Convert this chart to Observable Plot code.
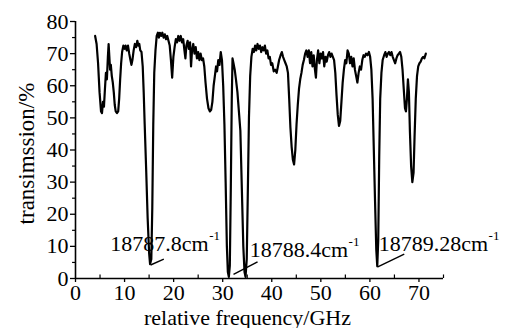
<!DOCTYPE html>
<html><head><meta charset="utf-8">
<script src="https://cdn.jsdelivr.net/npm/d3@7"></script>
<script src="https://cdn.jsdelivr.net/npm/@observablehq/plot@0.6"></script>
<style>
body{margin:0;background:#fff;font-family:"Liberation Serif",serif}
svg text{font-family:"Liberation Serif","Times New Roman",serif !important}
</style>
</head><body><div id="chart"></div>
<script>
// relative frequency (GHz)
const freq = [
4.0,4.3,4.6,4.9,5.2,5.4,5.6,5.8,6.0,6.2,
6.4,6.6,6.75,6.9,7.05,7.2,7.4,7.6,7.8,8.0,
8.2,8.45,8.7,8.9,9.1,9.3,9.5,9.75,10.0,10.2,
10.45,10.7,10.95,11.2,11.4,11.6,11.85,12.1,12.35,12.6,
12.8,13.0,13.2,13.45,13.7,13.9,14.1,14.4,14.7,15.0,
15.2,15.45,15.65,15.85,16.05,16.3,16.55,16.8,17.0,17.2,
17.45,17.7,17.95,18.2,18.45,18.7,18.95,19.2,19.45,19.7,
19.95,20.2,20.45,20.7,20.95,21.2,21.45,21.7,21.95,22.2,
22.4,22.6,22.85,23.1,23.35,23.55,23.75,24.0,24.25,24.5,
24.75,25.0,25.25,25.5,25.75,26.0,26.25,26.5,26.8,27.1,
27.4,27.65,27.9,28.15,28.4,28.65,28.85,29.1,29.35,29.6,
29.85,30.1,30.35,30.6,30.85,31.05,31.25,31.45,31.65,31.85,
32.0,32.2,32.45,32.7,33.0,33.3,33.6,33.9,34.2,34.45,
34.65,34.9,35.1,35.35,35.6,35.85,36.1,36.35,36.6,36.85,
37.1,37.35,37.6,37.85,38.1,38.35,38.6,38.85,39.1,39.35,
39.6,39.85,40.1,40.4,40.7,41.0,41.25,41.5,41.8,42.05,
42.3,42.55,42.8,43.05,43.3,43.55,43.8,44.05,44.3,44.55,
44.8,45.05,45.3,45.55,45.8,46.05,46.3,46.55,46.8,47.05,
47.3,47.55,47.8,48.05,48.3,48.55,48.8,49.0,49.2,49.45,
49.7,49.95,50.2,50.45,50.7,50.95,51.2,51.45,51.7,51.95,
52.2,52.45,52.7,52.95,53.2,53.45,53.7,53.95,54.2,54.45,
54.7,54.95,55.2,55.45,55.7,55.95,56.2,56.45,56.7,56.95,
57.2,57.45,57.7,57.95,58.2,58.45,58.7,58.95,59.2,59.5,
59.8,60.05,60.3,60.55,60.8,61.05,61.3,61.5,61.7,61.9,
62.1,62.35,62.6,62.9,63.15,63.4,63.65,63.9,64.15,64.4,
64.65,64.9,65.15,65.4,65.65,65.9,66.15,66.4,66.65,66.9,
67.15,67.35,67.55,67.75,67.95,68.15,68.4,68.65,68.9,69.1,
69.35,69.6,69.85,70.1,70.35,70.6,70.85,71.1,71.4
];
// transmission (%)
const trans = [
75.5,73,67,58,52,51.5,55,53.5,59,64,
62,69,73,69,65,66.5,63,61,58,54,
52,51.5,52,56,62,67,70.5,72.5,71.5,72.5,
71,72.5,70,68,66.5,68,71,73,72,74,
72.5,73,71,70.5,66,58,48,34,19,8,
4.5,6,22,48,64,71,75.5,76.5,75,76.5,
75.5,76.5,75,76,74.5,75.5,74,72.5,68,62.5,
69,72,74.5,73.5,75.5,74,75.5,73.5,74.5,71,
68.5,72.5,74,71.5,73.5,66,71,73,70,72,
68.5,70.5,68,70,68,68.5,66,61,56,53,
52,52.5,55,60,63,66,64.5,68,66.5,70.5,
68,60,48,30,10,2,0.5,4,28,56,
68.5,67,65,62,58,52,46,28,10,2,
0.5,6,25,50,63,69,71.5,70.5,72.5,71,
73,71.5,72.5,70.5,72,71,72.5,70,71,68.5,
69,66.5,67,64.5,65,64,66,68,69.5,70.5,
69,68,67,66,64,56,47,41,37,35.5,
40,48,54,59,62,64,66.5,68,70,71,
69,71,67,70.5,66,69.5,65,62.5,68,71,
67,70,68.5,70.5,66,69,67.5,69.5,70.5,69,
70,69,68,64,57,51,47.5,49,55,61,
65,68,67,71,70,67,69,66,68.5,65,
63,61,64,66,65,68,69.5,69,70,69.5,
70.5,69,65,56,40,24,9,3.8,12,38,
56,64,68,69.5,70.5,69,70,70.5,69.5,70.5,
69,68,67,68.5,69.5,70,70.5,69,65,59,
53,52,56,62,58,46,35,30,33,44,
56,63,66,67,67.5,68.5,69,68.5,70
];

const xTicks = [0, 10, 20, 30, 40, 50, 60, 70];
const xMinor = [5, 15, 25, 35, 45, 55, 65, 75];
const yTicks = [0, 10, 20, 30, 40, 50, 60, 70, 80];
const yMinor = [5, 15, 25, 35, 45, 55, 65, 75];

// line annotations (wavenumber + unit, superscript drawn separately)
const labelText = ["18787.8cm", "18788.4cm", "18789.28cm"];
const labelSup = "-1";
const labelX = [7.1, 35.5, 61.8];
const labelY = [10.8, 8.9, 10.9];
// leader lines: from dip to label
const leadX1 = [15.3, 32.2, 61.6];
const leadY1 = [4.2, 1.3, 3.6];
const leadX2 = [18.0, 37.1, 67.0];
const leadY2 = [6.0, 5.2, 7.6];

const xTitle = "relative frequency/GHz";
const yTitle = "transimssion/%";

const FONT = "Liberation Serif";
const data = freq.map((f, i) => ({f, t: trans[i]}));
const labels = labelText.map((s, i) => ({s, x: labelX[i], y: labelY[i]}));
const leaders = leadX1.map((x1, i) => ({x1, y1: leadY1[i], x2: leadX2[i], y2: leadY2[i]}));

// approximate serif advance widths (em) to place superscripts after each label
const adv = {"0":0.5,"1":0.5,"2":0.5,"3":0.5,"4":0.5,"5":0.5,"6":0.5,"7":0.5,"8":0.5,"9":0.5,".":0.25,"c":0.444,"m":0.778};
const textW = s => [...s].reduce((a, ch) => a + (adv[ch] || 0.5), 0) * 22;
const supMarks = labels.map(d => Plot.text([d], {
  x: "x", y: "y", text: () => labelSup, textAnchor: "start", lineAnchor: "middle",
  fontSize: 13, fontFamily: FONT, dx: textW(d.s) + 0.5, dy: -8
}));

const chart = Plot.plot({
  width: 511,
  height: 328,
  marginLeft: 75,
  marginRight: 68,
  marginTop: 21,
  marginBottom: 50,
  style: "font-family: 'Liberation Serif', serif; font-size: 22px;",
  x: {domain: [0, 75], label: null, axis: null},
  y: {domain: [0, 80], label: null, axis: null},
  marks: [
    Plot.axisX({ticks: xTicks, tickSize: 4, tickPadding: 2, label: null, fontSize: 22, fontFamily: FONT, strokeWidth: 1.3}),
    Plot.axisY({ticks: yTicks, tickSize: 5, tickPadding: 2, label: null, fontSize: 22, fontFamily: FONT, strokeWidth: 1.3}),
    Plot.ruleX(xMinor, {y1: 0, y2: 1.1, strokeWidth: 1.2}),
    Plot.ruleY(yMinor, {x1: 0, x2: -0.6, strokeWidth: 1.2}),
    Plot.ruleX([0], {strokeWidth: 1.6}),
    Plot.ruleY([0], {strokeWidth: 1.6}),
    Plot.line(data, {x: "f", y: "t", stroke: "black", strokeWidth: 2.2}),
    Plot.link(leaders, {x1: "x1", y1: "y1", x2: "x2", y2: "y2", stroke: "black", strokeWidth: 1.4}),
    Plot.text(labels, {x: "x", y: "y", text: "s", textAnchor: "start", lineAnchor: "middle", fontSize: 22, fontFamily: FONT}),
    ...supMarks,
    Plot.text([xTitle], {frameAnchor: "bottom", textAnchor: "middle", lineAnchor: "middle", dx: -12, dy: 39, fontSize: 22, fontFamily: FONT}),
    Plot.text([yTitle], {frameAnchor: "left", textAnchor: "middle", lineAnchor: "middle", rotate: -90, dx: -49, dy: 3.5, fontSize: 23, fontFamily: FONT})
  ]
});
// force the serif face on every text node as well
chart.querySelectorAll("text").forEach(t => {
  t.setAttribute("font-family", FONT);
  t.style.fontFamily = "'Liberation Serif', serif";
});
document.getElementById("chart").appendChild(chart);
</script>
</body></html>
